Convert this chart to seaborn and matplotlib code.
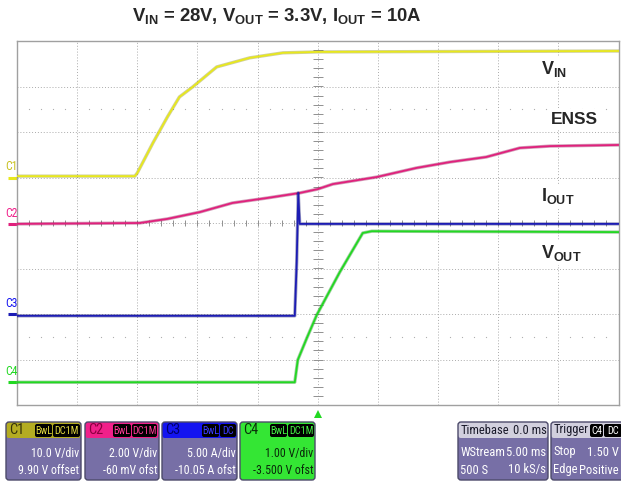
import matplotlib
matplotlib.use("Agg")
import matplotlib.pyplot as plt
import matplotlib.patheffects as pe
import matplotlib.transforms as mtransforms
from matplotlib import font_manager
from matplotlib.patches import FancyBboxPatch
import numpy as np
import pandas as pd
import seaborn as sns

# ---------------------------------------------------------------------------
# Dados lidos da tela do osciloscópio (tempo em ms, valor na unidade do canal)
# ---------------------------------------------------------------------------
C1_T = [-25.0, -15.2, -15.0, -13.7, -12.5, -11.5, -10.4, -8.4, -5.65, -2.9, 0.0, 25.0]
C1_V = [0.4, 0.4, 1.1, 7.7, 13.4, 17.8, 20.0, 24.4, 26.4, 27.5, 27.7, 27.9]

C2_T = [-25.0, -14.8, -12.5, -9.8, -7.1, -4.2, -1.5, 0.0, 1.25, 4.9, 8.2, 11.0, 14.0, 16.8, 19.3, 25.0]
C2_V = [0.02, 0.06, 0.24, 0.54, 0.94, 1.16, 1.38, 1.55, 1.77, 2.08, 2.48, 2.74, 2.96, 3.36, 3.44, 3.49]

C3_T = [-25.0, -1.91, -1.75, -1.62, -1.50, 25.0]
C3_V = [-0.15, -0.15, 5.76, 13.35, 9.95, 9.95]

C4_T = [-25.0, -1.91, -1.66, -0.91, -0.08, 1.83, 3.74, 4.49, 25.0]
C4_V = [0.0, 0.0, 0.49, 0.97, 1.48, 2.42, 3.28, 3.32, 3.30]

CANAIS = ["C1", "C2", "C3", "C4"]
VDIV = [10.0, 2.00, 5.00, 1.00]
OFFSET = [9.90, -0.060, -10.05, -3.500]
ESCALA_TXT = ["10.0 V/div", "2.00 V/div", "5.00 A/div", "1.00 V/div"]
OFFSET_TXT = ["9.90 V offset", "-60 mV ofst", "-10.05 A ofst", "-3.500 V ofst"]
ACOPLA_TXT = [["BwL", "DC1M"], ["BwL", "DC1M"], ["BwL", "DC"], ["BwL", "DC1M"]]

TITULO = r"V$_\mathbf{IN}$ = 28V, V$_\mathbf{OUT}$ = 3.3V, I$_\mathbf{OUT}$ = 10A"
ROTULOS = [r"V$_\mathbf{IN}$", "ENSS", r"I$_\mathbf{OUT}$", r"V$_\mathbf{OUT}$"]
TIMEBASE_TXT = [["Timebase", "0.0 ms"], ["WStream", "5.00 ms"], ["500 S", "10 kS/s"]]
TRIGGER_TXT = [["Trigger", ""], ["Stop", "1.50 V"], ["Edge", "Positive"]]

# Cores
COR_TRACO = ["#e8e81c", "#e0207c", "#1c1cb4", "#22d822"]
COR_BORDA = ["#8a8a10", "#901050", "#10106a", "#128a12"]
COR_CAB = ["#b4ac22", "#f0208a", "#1414f0", "#34e634"]
COR_CAB_TXT = ["#35320a", "#8a0040", "#00006a", "#0a300a"]
COR_MINI_TXT = ["#e0d840", "#ff3c98", "#3c3cff", "#44f044"]
COR_ROT = ["#c8c020", "#f0208a", "#1414f0", "#22d822"]
COR_CORPO = "#776fa6"
COR_GRADE = "#ababab"

W, H = 621, 484
X0, X1, Y0, Y1 = 17, 618.5, 41, 405  # área da grade em pixels

sns.set_style("white")


def escolher_fonte(*nomes):
    disponiveis = {f.name for f in font_manager.fontManager.ttflist}
    for n in nomes:
        if n in disponiveis:
            return n
    return None


ESTREITA = escolher_fonte("Liberation Sans Narrow", "Arial Narrow", "Roboto Condensed")
plt.rcParams["font.family"] = ["Liberation Sans", "DejaVu Sans"]
plt.rcParams["mathtext.fontset"] = "custom"
plt.rcParams["mathtext.bf"] = "Liberation Sans:bold"
plt.rcParams["mathtext.rm"] = "Liberation Sans"
if ESTREITA:
    EST_KW, FS = {"family": ESTREITA}, 8.6
else:
    EST_KW, FS = {"family": "Liberation Sans"}, 7.2

fig = plt.figure(figsize=(W / 100, H / 100), dpi=100)
ax = fig.add_axes([X0 / W, 1 - Y1 / H, (X1 - X0) / W, (Y1 - Y0) / H])

# ---------------------------------------------------------------------------
# Traços
# ---------------------------------------------------------------------------
series = [(C1_T, C1_V), (C2_T, C2_V), (C3_T, C3_V), (C4_T, C4_V)]
for i, (t, v) in enumerate(series):
    df = pd.DataFrame({"t": t, "v": v})
    df["div"] = (df["v"] + OFFSET[i]) / VDIV[i]
    sns.lineplot(data=df, x="t", y="div", estimator=None, sort=False,
                 color=COR_TRACO[i], lw=1.3, ax=ax, zorder=3 + i,
                 path_effects=[pe.Stroke(linewidth=2.4, foreground=COR_BORDA[i], alpha=0.4),
                               pe.Normal()])

ax.set_xlim(-25, 25)
ax.set_ylim(-4, 4)
ax.set_xticks(np.arange(-25, 26, 5))
ax.set_yticks(np.arange(-4, 5, 1))
ax.tick_params(length=0, labelbottom=False, labelleft=False)
ax.set_xlabel("")
ax.set_ylabel("")
ax.grid(True, linestyle=(0, (1, 2)), color=COR_GRADE, lw=0.7)
for s in ax.spines.values():
    s.set_color("#a0a0a0")
    s.set_linewidth(1.0)

# marcas das linhas centrais e pontos a ±2.5 div
xs = np.arange(-24, 25, 1.0)
ax.vlines(xs, -0.07, 0.07, color="#909090", lw=0.7, zorder=2)
ys = np.arange(-3.8, 4.0, 0.2)
ax.hlines(ys, -0.4, 0.4, color="#909090", lw=0.7, zorder=2)
pts = xs[np.abs(xs % 5) > 0.01]
for yy in (2.5, -2.5):
    ax.plot(pts, np.full(len(pts), yy), ls="none", marker="s", ms=0.8,
            color="#b0b0b0", markeredgewidth=0, zorder=2)

# marcadores de nível zero dos canais (lado esquerdo)
tr = mtransforms.blended_transform_factory(ax.transAxes, ax.transData)
for i, c in enumerate(CANAIS):
    nivel = OFFSET[i] / VDIV[i]
    ax.plot([-0.015, 0.0], [nivel, nivel], transform=tr, color=COR_TRACO[i],
            lw=2.2, clip_on=False, solid_capstyle="butt")
    ax.text(-0.019, nivel + 0.1, c, transform=tr, ha="left", va="bottom",
            fontsize=8.5, color=COR_ROT[i], **EST_KW)

# marcador de trigger
trx = mtransforms.blended_transform_factory(ax.transData, ax.transAxes)
ax.plot([0], [-0.026], marker="^", ms=6, color="#22d822", transform=trx,
        clip_on=False, markeredgewidth=0)

# ---------------------------------------------------------------------------
# Sobreposição em pixels: título, rótulos e caixas dos canais
# ---------------------------------------------------------------------------
ov = fig.add_axes([0, 0, 1, 1], zorder=10)
ov.set_xlim(0, W)
ov.set_ylim(H, 0)
ov.axis("off")

ov.text(277, 16, TITULO, ha="center", va="center", fontsize=13.3, fontweight="bold")

pos_rotulos = [(541, 69), (551, 119), (541, 196), (541, 253)]
for (x, y), txt in zip(pos_rotulos, ROTULOS):
    ov.text(x, y, txt, ha="left", va="center", fontsize=13 if x == 541 else 12.5,
            fontweight="bold", bbox=dict(facecolor="white", edgecolor="none", pad=1.5))


def caixa(x0, x1, cor_cab, cor_corpo, y0=422, y1=480, hcab=16):
    corpo = FancyBboxPatch((x0, y0), x1 - x0, y1 - y0,
                           boxstyle="round,pad=0,rounding_size=3",
                           facecolor=cor_corpo, edgecolor="none")
    cab = FancyBboxPatch((x0, y0), x1 - x0, hcab,
                         boxstyle="round,pad=0,rounding_size=3",
                         facecolor=cor_cab, edgecolor="none")
    borda = FancyBboxPatch((x0, y0), x1 - x0, y1 - y0,
                           boxstyle="round,pad=0,rounding_size=3",
                           facecolor="none", edgecolor="#4c4a6a", lw=1.0)
    for p in (corpo, cab, borda):
        ov.add_patch(p)


def mini(x0, x1, txt, cor_txt, y0=424, y1=437):
    ov.add_patch(FancyBboxPatch((x0, y0), x1 - x0, y1 - y0,
                                boxstyle="round,pad=0,rounding_size=2",
                                facecolor="black", edgecolor="none"))
    ov.text((x0 + x1) / 2, (y0 + y1) / 2 + 0.5, txt, ha="center", va="center",
            fontsize=FS - 1.2, color=cor_txt, **EST_KW)


caixas_x = [(6, 81), (85, 159), (162, 237), (240, 315)]
minis_x = [[(35, 52), (53, 80)], [(113, 131), (132, 157)],
           [(202, 219), (220, 236)], [(270, 287), (288, 314)]]
for i in range(4):
    x0, x1 = caixas_x[i]
    corpo = COR_CAB[3] if i == 3 else COR_CORPO
    caixa(x0, x1, COR_CAB[i], corpo)
    ov.text(x0 + 3, 430, CANAIS[i], ha="left", va="center", fontsize=FS + 1.8,
            color=COR_CAB_TXT[i], **EST_KW)
    for (m0, m1), txt in zip(minis_x[i], ACOPLA_TXT[i]):
        mini(m0, m1, txt, COR_MINI_TXT[i])
    cor_txt = "#0a2a0a" if i == 3 else "white"
    ov.text(x1 - 1.5, 453, ESCALA_TXT[i], ha="right", va="center", fontsize=FS,
            color=cor_txt, **EST_KW)
    ov.text(x1 - 1.5, 471, OFFSET_TXT[i], ha="right", va="center", fontsize=FS,
            color=cor_txt, **EST_KW)

# Timebase e Trigger
for (x0, x1), linhas in [((458, 548), TIMEBASE_TXT), ((551, 630), TRIGGER_TXT)]:
    caixa(x0, x1, "#d2d0de", COR_CORPO)
    for j, (esq, dir_) in enumerate(linhas):
        yy = [430, 452, 470][j]
        cor = "#1a1a2a" if j == 0 else "white"
        ov.text(x0 + 2.5, yy, esq, ha="left", va="center", fontsize=FS + 0.4, color=cor, **EST_KW)
        ov.text(x0 + 88.5 if x0 == 458 else 619, yy, dir_, ha="right", va="center",
                fontsize=FS + 0.4, color=cor, **EST_KW)
mini(590, 603, "C4", "white")
mini(604, 622, "DC", "white")

fig.savefig("out.png", dpi=100)
plt.close(fig)
